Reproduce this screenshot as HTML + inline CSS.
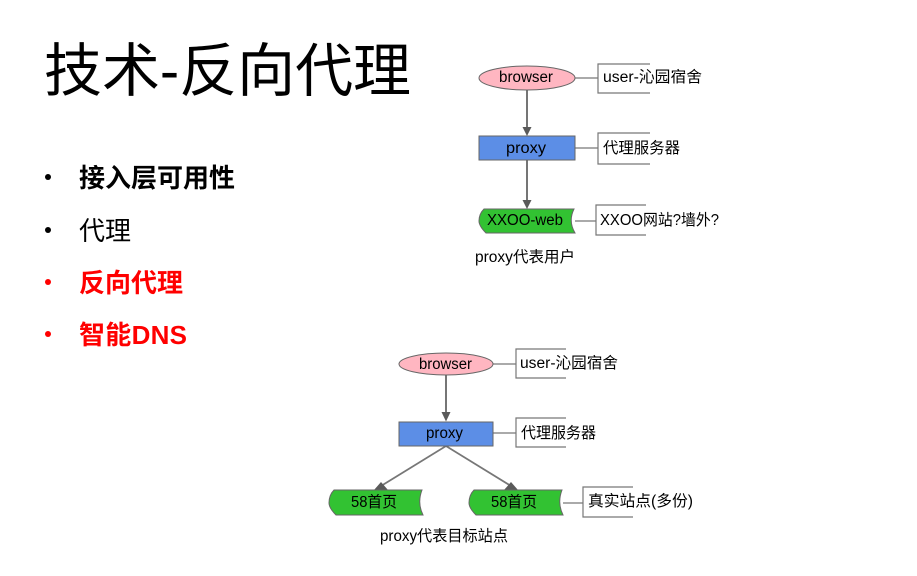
<!DOCTYPE html>
<html>
<head>
<meta charset="utf-8">
<style>
html,body{margin:0;padding:0;background:#fff;width:917px;height:576px;overflow:hidden}
svg{display:block}
text{font-family:"Liberation Sans","Noto Sans CJK SC",sans-serif}
.d text{font-size:15.5px;fill:#000}
.l{stroke:#666;stroke-width:1.8;fill:none}
.b{stroke:#777;stroke-width:1.2;fill:none}
.a{fill:#5a5a5a}
.n{stroke:#666;stroke-width:1}
</style>
</head>
<body>
<svg width="917" height="576" viewBox="0 0 917 576" xmlns="http://www.w3.org/2000/svg">
<defs><filter id="s" x="-5%" y="-5%" width="110%" height="110%"><feGaussianBlur stdDeviation="0.35"/></filter></defs>

<text x="44" y="91" font-size="58" fill="#000" textLength="367" lengthAdjust="spacingAndGlyphs">技术-反向代理</text>

<g font-size="26">
<circle cx="48" cy="177" r="3" fill="#000"/>
<text x="79" y="187" font-weight="bold" fill="#000" textLength="156">接入层可用性</text>
<circle cx="48" cy="230" r="3" fill="#000"/>
<text x="79" y="240" fill="#000" textLength="52">代理</text>
<circle cx="48" cy="282" r="3" fill="#f00"/>
<text x="79" y="292" font-weight="bold" fill="#f00" textLength="104">反向代理</text>
<circle cx="48" cy="334" r="3" fill="#f00"/>
<text x="79" y="344" font-weight="bold" fill="#f00" textLength="108">智能DNS</text>
</g>

<g class="d" filter="url(#s)">
<!-- top diagram -->
<path class="l" d="M527 90V128M527 160V200"/>
<polygon class="a" points="522.5,127 531.5,127 527,136"/>
<polygon class="a" points="522.5,200 531.5,200 527,209"/>
<path class="b" d="M575 78H598M650 64H598V93H650M575 148H598M650 133H598V164H650M575 221H596M646 205H596V235H646"/>
<ellipse class="n" cx="527" cy="78" rx="48" ry="12" fill="#ffb6c1"/>
<rect class="n" x="479" y="136" width="96" height="24" fill="#5b8ee6"/>
<path class="n" d="M484 209H574Q568 221 575 233H486Q479 226 479 221Q479 214 484 209Z" fill="#33c233"/>
<text x="499" y="82" font-size="14" textLength="54" lengthAdjust="spacingAndGlyphs">browser</text>
<text x="506" y="153" font-size="15" textLength="40" lengthAdjust="spacingAndGlyphs">proxy</text>
<text x="487" y="225" font-size="15" textLength="76" lengthAdjust="spacingAndGlyphs">XXOO-web</text>
<text x="603" y="82" textLength="99" lengthAdjust="spacingAndGlyphs">user-沁园宿舍</text>
<text x="603" y="153" textLength="77" lengthAdjust="spacingAndGlyphs">代理服务器</text>
<text x="600" y="225" textLength="119" lengthAdjust="spacingAndGlyphs">XXOO网站?墙外?</text>
<text x="475" y="262" font-size="15" textLength="100" lengthAdjust="spacingAndGlyphs">proxy代表用户</text>

<!-- bottom diagram -->
<path class="l" d="M446 375V413"/>
<polygon class="a" points="441.5,412 450.5,412 446,421.5"/>
<path class="l" style="stroke:#777" d="M381 486L446 446L511 486"/>
<polygon class="a" points="374,490 388,490 381,482"/>
<polygon class="a" points="504,490 518,490 511,482"/>
<path class="b" d="M493 364H516M566 349H516V378H566M493 433H516M566 418H516V447H566M563 503H583M633 487H583V517H633"/>
<ellipse class="n" cx="446" cy="364" rx="47" ry="11" fill="#ffb6c1"/>
<rect class="n" x="399" y="422" width="94" height="24" fill="#5b8ee6"/>
<path class="n" d="M334 490H422Q417 503 423 515H336Q329 508 329 503Q329 495 334 490Z" fill="#33c233"/>
<path class="n" d="M474 490H562Q557 503 563 515H476Q469 508 469 503Q469 495 474 490Z" fill="#33c233"/>
<text x="419" y="369" font-size="14" textLength="53" lengthAdjust="spacingAndGlyphs">browser</text>
<text x="426" y="438" font-size="15" textLength="37" lengthAdjust="spacingAndGlyphs">proxy</text>
<text x="351" y="507" textLength="46" lengthAdjust="spacingAndGlyphs">58首页</text>
<text x="491" y="507" textLength="46" lengthAdjust="spacingAndGlyphs">58首页</text>
<text x="520" y="368" textLength="98" lengthAdjust="spacingAndGlyphs">user-沁园宿舍</text>
<text x="521" y="438" textLength="75" lengthAdjust="spacingAndGlyphs">代理服务器</text>
<text x="588" y="506" textLength="105" lengthAdjust="spacingAndGlyphs">真实站点(多份)</text>
<text x="380" y="541" font-size="15" textLength="128" lengthAdjust="spacingAndGlyphs">proxy代表目标站点</text>
</g>
</svg>
</body>
</html>
